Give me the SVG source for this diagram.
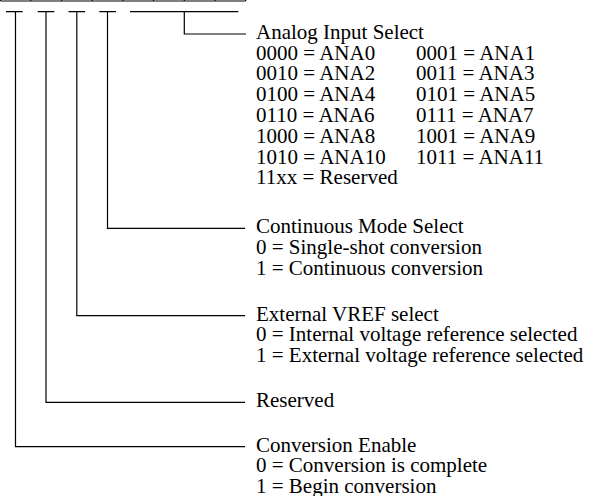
<svg xmlns="http://www.w3.org/2000/svg" width="597" height="496" viewBox="0 0 597 496">
<style>
.ln{stroke:#000;stroke-width:1.2;fill:none}
.t{font-family:"Liberation Serif","Times New Roman",serif;font-size:21px;fill:#000}
</style>
<rect width="597" height="496" fill="#fff"/>
<g id="register">
<path class="ln" d="M0.5,1 H245.7 M30.7,-5 V1 M61.7,-5 V1 M92.3,-5 V1 M122.9,-5 V1 M153.5,-5 V1 M184.3,-5 V1 M215,-5 V1 M245.7,-5 V1 M0.5,-5 V1"/>
</g>
<g id="connectors">
<path class="ln" d="M6,11.7 H22.7 M15.5,11.7 V446.7 H245"/>
<path class="ln" d="M37.7,11.7 H54.3 M46,11.7 V402.3 H245"/>
<path class="ln" d="M68.5,11.7 H85 M76.8,11.7 V315.7 H245"/>
<path class="ln" d="M99.3,11.7 H116 M107.5,11.7 V228.3 H245"/>
<path class="ln" d="M130,11.7 H238.3 M184.3,11.7 V34 H246"/>
</g>
<g id="analog-input-select" class="t">
<text x="256" y="38.7">Analog Input Select</text>
<text x="256" y="59.5">0000 = ANA0</text><text x="416" y="59.5">0001 = ANA1</text>
<text x="256" y="80.3">0010 = ANA2</text><text x="416" y="80.3">0011 = ANA3</text>
<text x="256" y="101.1">0100 = ANA4</text><text x="416" y="101.1">0101 = ANA5</text>
<text x="256" y="121.9">0110 = ANA6</text><text x="416" y="121.9">0111 = ANA7</text>
<text x="256" y="142.7">1000 = ANA8</text><text x="416" y="142.7">1001 = ANA9</text>
<text x="256" y="163.5">1010 = ANA10</text><text x="416" y="163.5">1011 = ANA11</text>
<text x="256" y="184.3">11xx = Reserved</text>
</g>
<g id="continuous-mode-select" class="t">
<text x="256" y="233.1">Continuous Mode Select</text>
<text x="256" y="253.9">0 = Single-shot conversion</text>
<text x="256" y="274.7">1 = Continuous conversion</text>
</g>
<g id="external-vref-select" class="t">
<text x="256" y="320.5">External VREF select</text>
<text x="256" y="341.3">0 = Internal voltage reference selected</text>
<text x="256" y="362.1">1 = External voltage reference selected</text>
</g>
<g id="reserved" class="t">
<text x="256" y="407.1">Reserved</text>
</g>
<g id="conversion-enable" class="t">
<text x="256" y="451.5">Conversion Enable</text>
<text x="256" y="472.3">0 = Conversion is complete</text>
<text x="256" y="492.5">1 = Begin conversion</text>
</g>
</svg>
